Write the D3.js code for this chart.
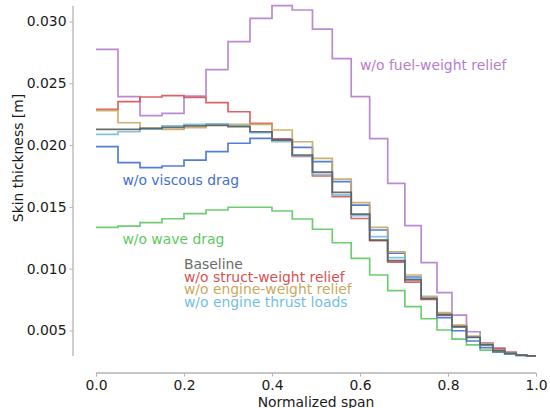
<!DOCTYPE html>
<html>
<head>
<meta charset="utf-8">
<script src="https://cdn.jsdelivr.net/npm/d3@7"></script>
<style>
  body { margin: 0; background: #fff; }
  text { font-family: "DejaVu Sans", sans-serif; }
</style>
</head>
<body>
<div id="skin_chart"></div>
<script>
// spanwise panel edges (normalized span)
const spanNodes = [0, 0.05, 0.10, 0.15, 0.20, 0.25, 0.30, 0.35, 0.40, 0.446, 0.492, 0.537,
  0.580, 0.622, 0.663, 0.702, 0.739, 0.775, 0.809, 0.842, 0.873, 0.902, 0.929, 0.955, 0.979, 1.0];

// skin thickness per panel [m]
const baseline = [0.02128, 0.02128, 0.02136, 0.02144, 0.02155, 0.02159, 0.02149, 0.02108, 0.02041,
  0.01920, 0.01782, 0.01617, 0.01442, 0.01232, 0.01066, 0.00909, 0.00759, 0.00629, 0.00531,
  0.00445, 0.00383, 0.00337, 0.00316, 0.00300, 0.00294];
const noStructWeight = [0.02290, 0.02351, 0.02389, 0.02400, 0.02385, 0.02343, 0.02270, 0.02176, 0.02049,
  0.01908, 0.01750, 0.01583, 0.01406, 0.01227, 0.01054, 0.00892, 0.00751, 0.00625, 0.00528,
  0.00447, 0.00391, 0.00354, 0.00326, 0.00302, 0.00294];
const noEngineWeight = [0.02279, 0.02181, 0.02136, 0.02128, 0.02141, 0.02163, 0.02168, 0.02168, 0.02122,
  0.02027, 0.01893, 0.01725, 0.01534, 0.01335, 0.01137, 0.00949, 0.00777, 0.00644, 0.00544,
  0.00455, 0.00391, 0.00342, 0.00318, 0.00302, 0.00294];
const noThrust = [0.02087, 0.02108, 0.02130, 0.02155, 0.02168, 0.02171, 0.02155, 0.02100, 0.02027,
  0.01912, 0.01764, 0.01597, 0.01430, 0.01260, 0.01090, 0.00920, 0.00765, 0.00632, 0.00530,
  0.00446, 0.00384, 0.00338, 0.00316, 0.00300, 0.00294];
const noViscous = [0.01987, 0.01858, 0.01817, 0.01831, 0.01879, 0.01947, 0.02015, 0.02055, 0.02049,
  0.01982, 0.01866, 0.01704, 0.01515, 0.01313, 0.01125, 0.00933, 0.00755, 0.00604, 0.00498,
  0.00415, 0.00361, 0.00326, 0.00310, 0.00298, 0.00294];
const noWave = [0.01335, 0.01345, 0.01372, 0.01404, 0.01445, 0.01475, 0.01497, 0.01497, 0.01467,
  0.01402, 0.01319, 0.01210, 0.01084, 0.00949, 0.00822, 0.00693, 0.00595, 0.00504, 0.00431,
  0.00383, 0.00342, 0.00326, 0.00310, 0.00298, 0.00294];
const noFuelWeight = [0.02775, 0.02392, 0.02238, 0.02257, 0.02397, 0.02610, 0.02837, 0.03026, 0.03128,
  0.03093, 0.02939, 0.02699, 0.02392, 0.02052, 0.01691, 0.01348, 0.01049, 0.00806, 0.00625,
  0.00490, 0.00401, 0.00358, 0.00318, 0.00302, 0.00294];

const xTicks = [0, 0.2, 0.4, 0.6, 0.8, 1.0];
const yTicks = [0.005, 0.010, 0.015, 0.020, 0.025, 0.030];

const series = [
  { name: 'w/o fuel-weight relief', values: noFuelWeight, color: '#b47dcd' },
  { name: 'w/o wave drag', values: noWave, color: '#5fc85f' },
  { name: 'w/o viscous drag', values: noViscous, color: '#3f70d2' },
  { name: 'w/o struct-weight relief', values: noStructWeight, color: '#d85252' },
  { name: 'w/o engine-weight relief', values: noEngineWeight, color: '#c9a95e' },
  { name: 'w/o engine thrust loads', values: noThrust, color: '#70bfe2' },
  { name: 'Baseline', values: baseline, color: '#5c5c5c' },
];

const width = 550, height = 408;
const plot = { left: 96, right: 536, top: 21.5, bottom: 330.5 };

const xScale = d3.scaleLinear().domain([0, 1]).range([plot.left, plot.right]);
const yScale = d3.scaleLinear().domain([0.005, 0.030]).range([plot.bottom, plot.top]);

const spineGray = '#b3b3b3';

const svg = d3.select('#skin_chart')
  .append('svg')
  .attr('width', width)
  .attr('height', height);

// step lines: each panel holds its value until the next edge
const lineGenerator = d3.line()
  .x(d => xScale(d.x))
  .y(d => yScale(d.y))
  .curve(d3.curveStepAfter);

const toPoints = values => {
  const pts = values.map((v, i) => ({ x: spanNodes[i], y: v }));
  pts.push({ x: spanNodes[spanNodes.length - 1], y: values[values.length - 1] });
  return pts;
};

series.forEach(s => {
  svg.append('path')
    .datum(toPoints(s.values))
    .attr('d', lineGenerator)
    .attr('fill', 'none')
    .attr('stroke', s.color)
    .attr('stroke-width', 1.7)
    .attr('stroke-opacity', 0.9);
});

// trimmed, offset spines
const allValues = series.flatMap(s => s.values);
const [yMin, yMax] = d3.extent(allValues);
const xAxisY = 373, yAxisX = 73;

svg.append('line')
  .attr('x1', yAxisX).attr('x2', yAxisX)
  .attr('y1', yScale(yMax)).attr('y2', yScale(yMin))
  .attr('stroke', spineGray).attr('stroke-width', 1.3);

svg.append('line')
  .attr('x1', xScale(0)).attr('x2', xScale(1))
  .attr('y1', xAxisY).attr('y2', xAxisY)
  .attr('stroke', spineGray).attr('stroke-width', 1.3);

const yAxis = d3.axisLeft(yScale)
  .tickValues(yTicks)
  .tickFormat(d3.format('.3f'))
  .tickSizeInner(3.5)
  .tickSizeOuter(0)
  .tickPadding(3);

const xAxis = d3.axisBottom(xScale)
  .tickValues(xTicks)
  .tickFormat(d3.format('.1f'))
  .tickSizeInner(3.5)
  .tickSizeOuter(0)
  .tickPadding(4);

const gy = svg.append('g')
  .attr('transform', 'translate(' + yAxisX + ',0)')
  .call(yAxis);
const gx = svg.append('g')
  .attr('transform', 'translate(0,' + xAxisY + ')')
  .call(xAxis);

[gx, gy].forEach(g => {
  g.select('.domain').remove();
  g.selectAll('.tick line').attr('stroke', spineGray).attr('stroke-width', 1);
  g.selectAll('.tick text')
    .attr('fill', '#1a1a1a')
    .style('font-size', '13.9px')
    .style('font-family', '"DejaVu Sans", sans-serif');
});

// axis titles
svg.append('text')
  .attr('x', 316).attr('y', 406.5)
  .attr('text-anchor', 'middle')
  .attr('fill', '#1a1a1a')
  .style('font-size', '13.9px')
  .text('Normalized span');

svg.append('text')
  .attr('transform', 'translate(23,158) rotate(-90)')
  .attr('text-anchor', 'middle')
  .attr('fill', '#1a1a1a')
  .style('font-size', '13.9px')
  .text('Skin thickness [m]');

// inline labels
const labels = [
  { text: 'w/o fuel-weight relief', x: 0.60, y: 70, color: '#b47dcd' },
  { text: 'w/o viscous drag', x: 0.06, y: 184.5, color: '#3f70d2' },
  { text: 'w/o wave drag', x: 0.06, y: 244, color: '#5fc85f' },
  { text: 'Baseline', x: 0.20, y: 269, color: '#6a6a6a' },
  { text: 'w/o struct-weight relief', x: 0.20, y: 281.5, color: '#d85252' },
  { text: 'w/o engine-weight relief', x: 0.20, y: 294, color: '#c9a95e' },
  { text: 'w/o engine thrust loads', x: 0.20, y: 306.5, color: '#70bfe2' },
];

svg.selectAll('.inline_label')
  .data(labels)
  .enter()
  .append('text')
  .attr('class', 'inline_label')
  .attr('x', d => xScale(d.x))
  .attr('y', d => d.y)
  .attr('fill', d => d.color)
  .style('font-size', '13.9px')
  .text(d => d.text);
</script>
</body>
</html>
